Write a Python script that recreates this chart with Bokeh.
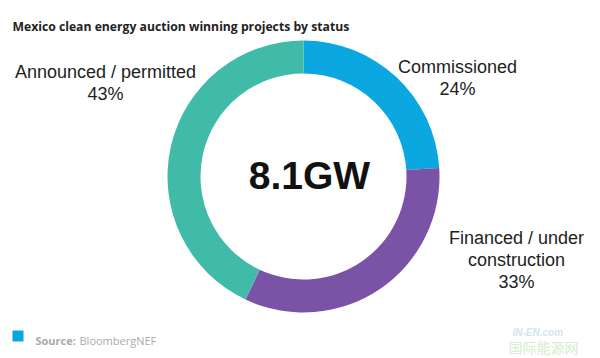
import numpy as np
from bokeh.plotting import figure
from bokeh.models import Range1d
from bokeh.core.properties import value
from bokeh.embed import file_html
from bokeh.resources import INLINE

# ---- data ----
categories = ["Commissioned", "Financed / under\nconstruction", "Announced / permitted"]
shares = [24, 33, 43]
colors = ["#0BA7E0", "#7A53A7", "#40BBA7"]
total_label = "8.1GW"
title = "Mexico clean energy auction winning projects by status"
source_label = "BloombergNEF"

W, H = 600, 358
p = figure(width=W, height=H, output_backend="svg", toolbar_location=None,
           x_range=Range1d(0, W), y_range=Range1d(0, H), min_border=0)
p.axis.visible = False
p.grid.visible = False
p.outline_line_color = None
p.background_fill_color = "white"
p.border_fill_color = "white"

def X(px):
    return px
def Y(py):
    return H - py

cx, cy = X(303), Y(176)
fr = np.array(shares, dtype=float) / sum(shares)
cum = np.concatenate([[0], np.cumsum(fr)])
starts = np.pi / 2 - cum[:-1] * 2 * np.pi
ends = np.pi / 2 - cum[1:] * 2 * np.pi

p.annular_wedge(x=[cx] * 3, y=[cy] * 3, inner_radius=103, outer_radius=136,
                start_angle=list(starts), end_angle=list(ends), direction="clock",
                fill_color=colors, line_color=None)

# center label
p.text(x=[X(309)], y=[Y(175)], text=[total_label], text_font=value("Liberation Sans"),
       text_font_style="bold", text_font_size="39px", text_align="center",
       text_baseline="middle", text_color="#111111")

# slice labels
lab_x = [X(457), X(516), X(105)]
lab_y = [Y(56), Y(227), Y(61)]
texts = [f"{c}\n{s}%" for c, s in zip(categories, shares)]
p.text(x=lab_x, y=lab_y, text=texts, text_font=value("Liberation Sans"),
       text_font_size="18px", text_align="center", text_baseline="top",
       text_line_height=1.12, text_color="#222222")

# title
p.text(x=[X(12)], y=[Y(26)], text=[title], text_font=value("Open Sans"),
       text_font_style="bold", text_font_size="12.2px", text_align="left",
       text_baseline="alphabetic", text_color="#222222")

# source
p.rect(x=[X(17.5)], y=[Y(335.5)], width=11, height=11, fill_color="#0BA7E0", line_color=None)
p.text(x=[X(35)], y=[Y(340)], text=["Source:"], text_font=value("Open Sans"),
       text_font_style="bold", text_font_size="11px", text_baseline="alphabetic",
       text_color="#AAAAAA")
p.text(x=[X(79)], y=[Y(340)], text=["BloombergNEF"], text_font=value("Open Sans"),
       text_font_size="11px", text_baseline="alphabetic", text_color="#AAAAAA")

# watermark
p.text(x=[X(512)], y=[Y(332)], text=["IN-EN.com"], text_font=value("Liberation Sans"),
       text_font_style="bold italic", text_font_size="10px", text_baseline="alphabetic",
       text_color="#CFE6F0")
p.text(x=[X(508)], y=[Y(346)], text=["国际能源网"], text_font=value("Noto Sans CJK SC"),
       text_font_size="14px", text_baseline="alphabetic", text_color="#D5EDD0")

open("out.html", "w").write(file_html(p, INLINE))
